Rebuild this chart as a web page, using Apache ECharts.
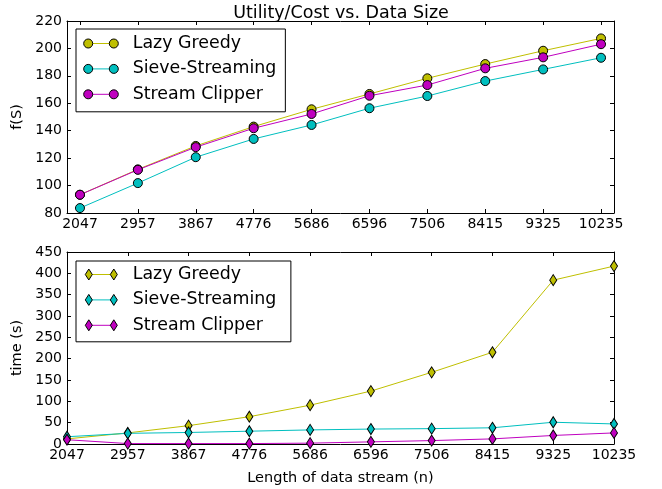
<!DOCTYPE html>
<html><head><meta charset="utf-8">
<script src="https://cdn.jsdelivr.net/npm/echarts@6/dist/echarts.min.js"></script>
<style>html,body{margin:0;padding:0;background:#fff}#c{width:662px;height:489px}</style>
</head><body><div id="c"></div>
<script>
// ---- data ----
const categories = ['2047','2957','3867','4776','5686','6596','7506','8415','9325','10235'];
const seriesNames = ['Lazy Greedy','Sieve-Streaming','Stream Clipper'];
const utilLazy    = [93.3, 111.8, 128.9, 143.0, 155.6, 166.8, 178.2, 188.6, 198.3, 207.3];
const utilSieve   = [83.6, 101.8, 120.7, 134.0, 144.2, 156.4, 165.3, 176.2, 184.7, 193.2];
const utilClipper = [93.3, 111.5, 128.0, 141.8, 152.2, 165.5, 173.3, 185.5, 193.5, 203.1];
const timeLazy    = [12, 26, 43, 64, 91, 124, 168, 215, 384, 417];
const timeSieve   = [17, 25, 27, 30, 33, 35, 36, 38, 51, 47];
const timeClipper = [10, 1, 1, 1, 2, 5, 8, 12, 20, 26];
const utilTicks = [80, 220, 20];
const timeTicks = [0, 450, 50];

// ---- styling ----
const FONT = 'DejaVu Sans';
const colors = ['#bfbf00', '#00bfbf', '#bf00bf'];
const idx = categories.map((_, i) => i);
const pairs = arr => arr.map((v, i) => [i, v]);

const lineIconTop = 'path://M0,0M44.7,9M4.7,4L30.3,4L30.3,5L4.7,5Z';
const circIconTop = 'path://M0,0M44.7,9M0.2,4.5A4.5,4.5,0,1,0,9.2,4.5A4.5,4.5,0,1,0,0.2,4.5ZM25.8,4.5A4.5,4.5,0,1,0,34.8,4.5A4.5,4.5,0,1,0,25.8,4.5Z';
const lineIconBot = 'path://M0,0M44.7,11M5.3,5L30.3,5L30.3,6L5.3,6Z';
const diamIconBot = 'path://M0,0M44.7,11M5.3,0L8.8,5.5L5.3,11L1.8,5.5ZM30.3,0L33.8,5.5L30.3,11L26.8,5.5Z';

const tickStyle = {show: true, inside: true, length: 4, lineStyle: {color: '#000', width: 1}};
const lineAx = {show: true, onZero: false, lineStyle: {color: '#000', width: 1}};
const lab = {color: '#000', fontFamily: FONT, fontSize: 14};

function legendPair(top, lineIcon, markIcon, pad) {
  const base = {
    orient: 'vertical', left: 76, top: top, padding: pad, itemGap: 8.4,
    itemWidth: 44.7, itemHeight: lineIcon === lineIconTop ? 9 : 11,
    textStyle: {fontFamily: FONT, fontSize: 17.4, color: '#000'},
    selectedMode: false
  };
  const gIdx = top < 200 ? 0 : 1;
  const names = seriesNames.map(n => (gIdx === 0 ? n : n + ' '));
  const l1 = Object.assign({}, base, {
    z: 6, icon: lineIcon, backgroundColor: '#fff', borderColor: '#000', borderWidth: 1,
    itemStyle: {borderWidth: 0},
    data: names.map((n, i) => ({name: n, itemStyle: {color: colors[i], borderWidth: 0}}))
  });
  const l2 = Object.assign({}, base, {
    z: 7, icon: markIcon,
    itemStyle: {borderColor: '#000', borderWidth: 1},
    formatter: () => ' ',
    data: names.map((n, i) => ({name: n, itemStyle: {color: colors[i], borderColor: '#000', borderWidth: 1}}))
  });
  return [l1, l2];
}

const topX = {
  type: 'value', min: -0.224, max: 9.224, splitLine: {show: false}, axisLine: lineAx
};

const option = {
  animation: false,
  backgroundColor: '#fff',
  title: {
    text: 'Utility/Cost vs. Data Size', left: 336, top: -1, textAlign: 'center',
    textStyle: {fontFamily: FONT, fontSize: 17.5, fontWeight: 'normal', color: '#000'}
  },
  legend: [].concat(
    legendPair(29, lineIconTop, circIconTop, [6, 9, 9, 7]),
    legendPair(261, lineIconBot, diamIconBot, [5, 9, 8, 7])
  ),
  grid: [
    {left: 67, top: 21, width: 547, height: 192, containLabel: false},
    {left: 67, top: 252, width: 547, height: 192, containLabel: false}
  ],
  xAxis: [
    Object.assign({}, topX, {gridIndex: 0, position: 'bottom',
      axisTick: Object.assign({}, tickStyle, {customValues: idx}),
      axisLabel: Object.assign({}, lab, {margin: 4, customValues: idx, formatter: v => categories[Math.round(v)]})}),
    Object.assign({}, topX, {gridIndex: 0, position: 'top',
      axisTick: Object.assign({}, tickStyle, {customValues: idx}),
      axisLabel: {show: false}}),
    {type: 'value', gridIndex: 1, position: 'bottom', min: 0, max: 9, interval: 1,
      splitLine: {show: false}, axisLine: lineAx, axisTick: tickStyle,
      axisLabel: Object.assign({}, lab, {margin: 4, formatter: v => categories[Math.round(v)]}),
      name: 'Length of data stream (n)', nameLocation: 'middle', nameGap: 27,
      nameTextStyle: {fontFamily: FONT, fontSize: 14.5, color: '#000'}},
    {type: 'value', gridIndex: 1, position: 'top', min: 0, max: 9, interval: 1,
      splitLine: {show: false}, axisLine: lineAx, axisTick: tickStyle, axisLabel: {show: false}}
  ],
  yAxis: [
    {type: 'value', gridIndex: 0, position: 'left', min: utilTicks[0], max: utilTicks[1], interval: utilTicks[2],
      splitLine: {show: false}, axisLine: lineAx, axisTick: tickStyle,
      axisLabel: Object.assign({}, lab, {margin: 5}),
      name: 'f(S)', nameLocation: 'middle', nameRotate: 90, nameGap: 37,
      nameTextStyle: {fontFamily: FONT, fontSize: 14.5, color: '#000'}},
    {type: 'value', gridIndex: 0, position: 'right', min: utilTicks[0], max: utilTicks[1], interval: utilTicks[2],
      splitLine: {show: false}, axisLine: lineAx, axisTick: tickStyle, axisLabel: {show: false}},
    {type: 'value', gridIndex: 1, position: 'left', min: timeTicks[0], max: timeTicks[1], interval: timeTicks[2],
      splitLine: {show: false}, axisLine: lineAx, axisTick: tickStyle,
      axisLabel: Object.assign({}, lab, {margin: 5}),
      name: 'time (s)', nameLocation: 'middle', nameRotate: 90, nameGap: 37,
      nameTextStyle: {fontFamily: FONT, fontSize: 14.5, color: '#000'}},
    {type: 'value', gridIndex: 1, position: 'right', min: timeTicks[0], max: timeTicks[1], interval: timeTicks[2],
      splitLine: {show: false}, axisLine: lineAx, axisTick: tickStyle, axisLabel: {show: false}}
  ],
  series: []
};

const utilData = [utilLazy, utilSieve, utilClipper];
const timeData = [timeLazy, timeSieve, timeClipper];
seriesNames.forEach((n, i) => {
  option.series.push({
    type: 'line', name: n, xAxisIndex: 0, yAxisIndex: 0, data: pairs(utilData[i]),
    symbol: 'circle', symbolSize: 9, z: 2 + i,
    lineStyle: {color: colors[i], width: 1},
    itemStyle: {color: colors[i], borderColor: '#000', borderWidth: 1}
  });
});
seriesNames.forEach((n, i) => {
  option.series.push({
    type: 'line', name: n + ' ', xAxisIndex: 2, yAxisIndex: 2, data: pairs(timeData[i]),
    symbol: 'diamond', symbolSize: [7, 11], z: 2 + i,
    lineStyle: {color: colors[i], width: 1},
    itemStyle: {color: colors[i], borderColor: '#000', borderWidth: 1}
  });
});

const chart = echarts.init(document.getElementById('c'), null, {renderer: 'canvas'});
chart.setOption(option);
</script>
</body></html>
